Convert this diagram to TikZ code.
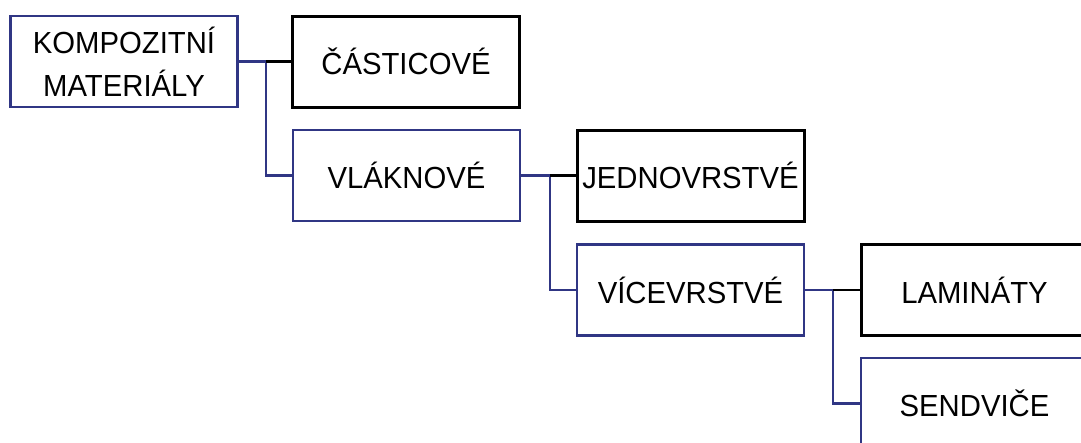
\documentclass[tikz,border=0pt]{standalone}
\usepackage{fontspec}
\setmainfont{Liberation Sans}[FakeStretch=0.96]
\definecolor{navy}{RGB}{48,54,132}
\begin{document}
\begin{tikzpicture}[x=1pt,y=-1pt,
  box/.style={rectangle, minimum width=227pt, minimum height=91pt, inner sep=0pt,
    align=center, fill=white, font=\fontsize{30.5}{43}\selectfont},
  bluebox/.style={box, draw=navy, line width=2.4pt},
  blackbox/.style={box, draw=black, line width=3pt},
  blueline/.style={draw=navy, line width=2.4pt},
  blackline/.style={draw=black, line width=2.4pt}]
\path[use as bounding box, clip] (0,0) rectangle (1081,442);

% boxes of the hierarchy
\node[bluebox]  (kom) at (124,61.5)   {KOMPOZITNÍ\\MATERIÁLY};
\node[blackbox] (cas) at (406,61.5)   {ČÁSTICOVÉ};
\node[bluebox]  (vla) at (406.5,175.5) {VLÁKNOVÉ};
\node[blackbox] (jed) at (690.5,175.5) {JEDNOVRSTVÉ};
\node[bluebox]  (vic) at (690.5,290)  {VÍCEVRSTVÉ};
\node[blackbox] (lam) at (974.5,290)  {LAMINÁTY};
\node[bluebox]  (sen) at (974.5,403.5) {SENDVIČE};

% branching points
\coordinate (b1) at (266,61.5);
\coordinate (b2) at (550,175.5);
\coordinate (b3) at (833,290);

% connectors
\draw[blueline]  (kom.east) -- (b1);
\draw[blueline]  (b1) |- (vla.west);
\draw[blackline] (b1) -- (cas.west);

\draw[blueline]  (vla.east) -- (b2);
\draw[blueline]  (b2) |- (vic.west);
\draw[blackline] (b2) -- (jed.west);

\draw[blueline]  (vic.east) -- (b3);
\draw[blueline]  (b3) |- (sen.west);
\draw[blackline] (b3) -- (lam.west);
\end{tikzpicture}
\end{document}
